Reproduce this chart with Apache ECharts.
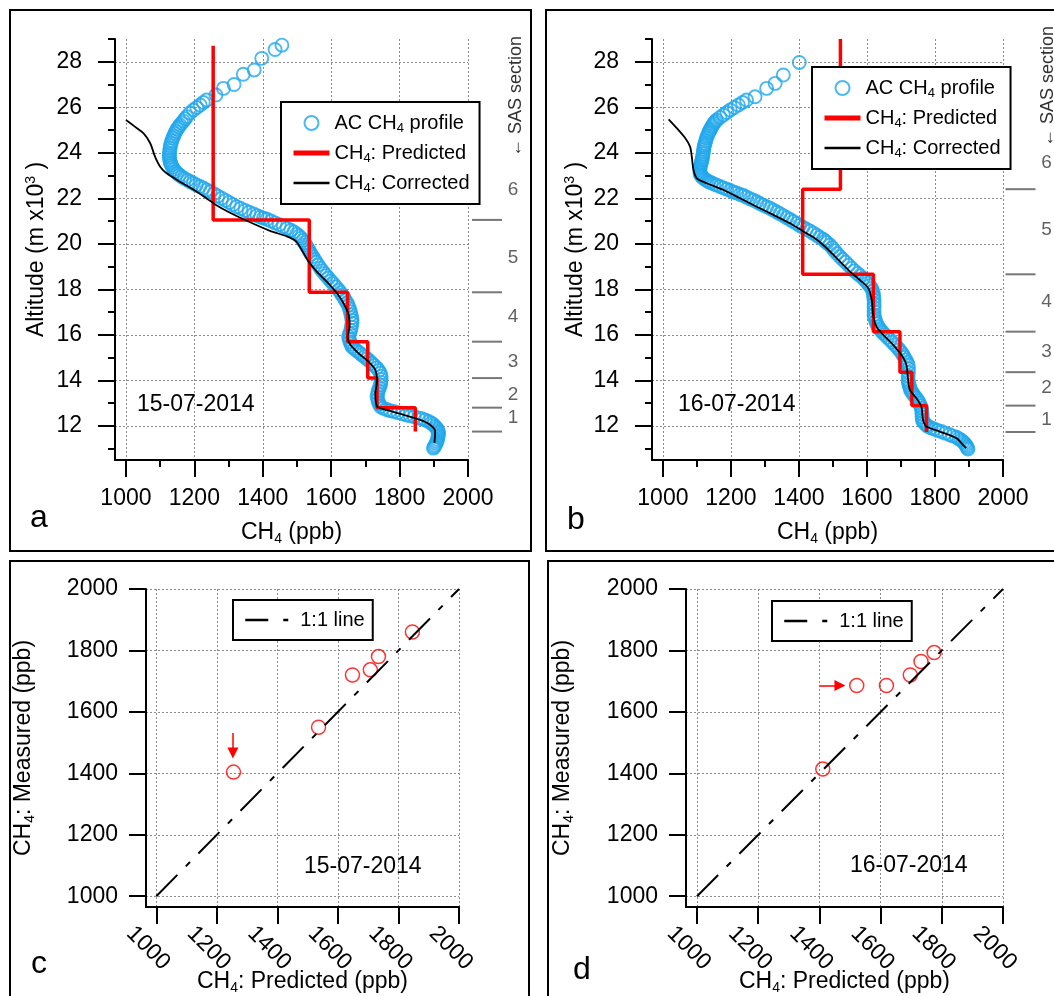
<!DOCTYPE html>
<html><head><meta charset="utf-8">
<script src="https://cdn.jsdelivr.net/npm/echarts@6/dist/echarts.min.js"></script>
<style>html,body{margin:0;padding:0;background:#fff}#c{width:1054px;height:996px}</style>
</head><body><div id="c"></div>
<script>
// ---------------- DATA ----------------
const xTicks = [1000, 1200, 1400, 1600, 1800, 2000];
const xMinorTicks = [1100, 1300, 1500, 1700, 1900];
const altTicks = [12, 14, 16, 18, 20, 22, 24, 26, 28];
const altMinorTicks = [11, 13, 15, 17, 19, 21, 23, 25, 27, 29];
const scTicks = [1000, 1200, 1400, 1600, 1800, 2000];
const sasLabels = ['1', '2', '3', '4', '5', '6'];

// 15-07-2014 AC CH4 profile [CH4 ppb, altitude km]
const profA = [[1456,28.73],[1436,28.54],[1397,28.15],[1375,27.64],[1343,27.45],[1316,27.00],[1285,26.83],[1263,26.54],
[1236,26.32],[1226,26.21],[1217,26.10],[1207,25.99],[1197,25.88],[1187,25.75],[1178,25.59],[1173,25.50],[1168,25.40],[1163,25.31],
[1158,25.22],[1154,25.13],[1150,25.05],[1146,24.95],[1143,24.86],[1140,24.75],[1137,24.65],[1134,24.53],[1132,24.42],[1130,24.31],
[1129,24.20],[1128,24.09],[1127,23.98],[1127,23.89],[1127,23.80],[1128,23.70],[1129,23.61],[1131,23.53],[1133,23.45],[1136,23.36],
[1140,23.27],[1145,23.18],[1150,23.10],[1156,23.02],[1163,22.95],[1171,22.87],[1180,22.80],[1188,22.73],[1197,22.66],[1206,22.59],
[1216,22.52],[1226,22.45],[1236,22.37],[1246,22.29],[1257,22.20],[1268,22.10],[1280,22.00],[1291,21.91],[1302,21.82],[1313,21.72],
[1324,21.63],[1336,21.55],[1348,21.47],[1360,21.39],[1373,21.31],[1383,21.24],[1393,21.18],[1402,21.13],[1412,21.08],[1424,21.00],
[1436,20.92],[1448,20.84],[1460,20.76],[1471,20.68],[1482,20.60],[1491,20.52],[1499,20.43],[1506,20.34],[1512,20.25],[1517,20.15],
[1522,20.05],[1526,19.95],[1530,19.85],[1534,19.75],[1537,19.65],[1541,19.55],[1546,19.44],[1551,19.32],[1556,19.20],[1562,19.07],
[1568,18.93],[1574,18.81],[1580,18.70],[1586,18.60],[1592,18.49],[1599,18.37],[1606,18.25],[1614,18.11],[1622,17.97],[1627,17.86],
[1632,17.75],[1637,17.64],[1641,17.53],[1646,17.41],[1650,17.30],[1653,17.16],[1656,17.02],[1658,16.88],[1660,16.75],[1661,16.63],
[1661,16.51],[1659,16.35],[1657,16.20],[1654,16.06],[1651,15.92],[1653,15.81],[1655,15.70],[1658,15.59],[1661,15.48],[1668,15.39],
[1675,15.30],[1683,15.21],[1690,15.12],[1698,15.03],[1705,14.95],[1712,14.85],[1719,14.75],[1726,14.65],[1733,14.55],[1739,14.43],
[1744,14.31],[1746,14.18],[1746,14.05],[1745,13.92],[1744,13.80],[1741,13.67],[1738,13.55],[1736,13.42],[1734,13.29],[1736,13.17],
[1738,13.05],[1741,12.95],[1744,12.85],[1752,12.78],[1762,12.72],[1772,12.67],[1783,12.63],[1795,12.58],[1808,12.53],[1820,12.48],
[1831,12.44],[1843,12.40],[1855,12.35],[1865,12.31],[1875,12.26],[1885,12.19],[1893,12.12],[1899,12.05],[1904,11.97],[1908,11.90],
[1911,11.83],[1913,11.75],[1914,11.68],[1913,11.59],[1912,11.50],[1911,11.40],[1909,11.31],[1907,11.23],[1904,11.15],[1901,11.08],[1899,11.02]];
// 15-07-2014 corrected CH4 [ppb, km]
const corrA = [[1000,25.44],[1026,25.15],[1051,24.86],[1071,24.42],[1085,23.83],[1100,23.39],[1119,23.10],[1158,22.73],[1207,22.29],[1240,21.95],
[1262,21.72],[1300,21.40],[1355,21.00],[1421,20.57],[1470,20.33],[1497,20.12],[1514,19.73],[1534,19.22],[1558,18.78],[1587,18.34],
[1617,17.83],[1636,17.39],[1651,16.88],[1654,16.36],[1648,15.92],[1656,15.56],[1680,15.19],[1709,14.82],[1729,14.46],[1734,13.95],
[1729,13.44],[1734,12.85],[1763,12.70],[1812,12.48],[1860,12.26],[1890,12.04],[1904,11.75],[1902,11.25]];
// 15-07-2014 SAS sections 1..6: predicted and measured CH4, section bounds (km)
const predA = [1846, 1734, 1707, 1648, 1536, 1255];
const measA = [1860, 1780, 1737, 1720, 1550, 1404];
const boundsA = [11.75, 12.8, 14.1, 15.7, 17.87, 21.05, 28.7];
const sasLabelAltA = [12.35, 13.36, 14.83, 16.8, 19.38, 22.36];

// 16-07-2014
const profB = [[1401,27.97],[1354,27.42],[1330,27.05],[1305,26.83],[1271,26.46],
[1246,26.32],[1234,26.21],[1222,26.10],[1210,25.99],[1198,25.88],[1188,25.77],[1178,25.66],[1168,25.55],[1158,25.44],[1154,25.37],
[1150,25.30],[1147,25.22],[1144,25.15],[1141,25.07],[1139,25.00],[1136,24.93],[1134,24.86],[1131,24.75],[1128,24.65],[1126,24.53],
[1124,24.42],[1122,24.33],[1121,24.25],[1120,24.15],[1119,24.05],[1118,23.95],[1117,23.85],[1116,23.76],[1115,23.68],[1113,23.59],
[1112,23.50],[1110,23.41],[1109,23.32],[1109,23.23],[1109,23.15],[1110,23.08],[1111,23.02],[1114,22.96],[1118,22.90],[1123,22.84],
[1129,22.78],[1135,22.73],[1142,22.68],[1150,22.63],[1158,22.58],[1168,22.52],[1178,22.46],[1188,22.40],[1198,22.34],[1207,22.28],
[1217,22.23],[1227,22.17],[1237,22.12],[1246,22.05],[1256,21.98],[1266,21.92],[1276,21.85],[1285,21.77],[1295,21.70],[1305,21.63],
[1315,21.56],[1325,21.48],[1335,21.40],[1344,21.32],[1354,21.24],[1364,21.15],[1374,21.07],[1383,20.98],[1393,20.90],[1402,20.81],
[1412,20.73],[1422,20.64],[1432,20.56],[1442,20.47],[1452,20.38],[1461,20.29],[1471,20.20],[1477,20.12],[1482,20.05],[1491,19.95],
[1498,19.83],[1505,19.70],[1512,19.57],[1520,19.44],[1528,19.32],[1537,19.20],[1546,19.06],[1555,18.93],[1563,18.81],[1572,18.70],
[1580,18.60],[1589,18.49],[1596,18.38],[1602,18.27],[1608,18.16],[1614,18.05],[1617,17.92],[1619,17.80],[1620,17.66],[1621,17.53],
[1621,17.36],[1621,17.20],[1621,17.04],[1621,16.88],[1623,16.74],[1626,16.60],[1629,16.48],[1633,16.36],[1637,16.27],[1642,16.18],
[1647,16.09],[1653,16.00],[1660,15.89],[1668,15.78],[1675,15.67],[1682,15.56],[1689,15.45],[1695,15.35],[1701,15.23],[1706,15.12],
[1710,15.01],[1714,14.90],[1718,14.79],[1721,14.68],[1722,14.52],[1722,14.35],[1721,14.18],[1721,14.02],[1722,13.91],[1724,13.80],
[1726,13.69],[1728,13.58],[1732,13.49],[1736,13.40],[1740,13.31],[1745,13.22],[1750,13.11],[1754,13.00],[1757,12.89],[1760,12.78],
[1761,12.65],[1762,12.52],[1762,12.39],[1763,12.26],[1766,12.18],[1770,12.10],[1775,12.03],[1780,11.97],[1789,11.91],[1798,11.86],
[1808,11.80],[1819,11.75],[1830,11.68],[1842,11.62],[1852,11.56],[1863,11.50],[1870,11.44],[1877,11.37],[1882,11.30],[1887,11.24],
[1890,11.17],[1893,11.10],[1895,11.04],[1897,10.98]];
const corrB = [[1017,25.47],[1041,25.08],[1066,24.64],[1080,24.27],[1085,23.83],[1090,23.24],[1100,22.88],[1129,22.66],[1178,22.37],[1227,22.00],
[1276,21.63],[1325,21.27],[1374,20.90],[1413,20.54],[1447,20.24],[1478,19.86],[1511,19.37],[1550,18.78],[1579,18.41],[1604,18.05],
[1614,17.53],[1618,16.88],[1628,16.36],[1648,16.00],[1677,15.56],[1701,15.12],[1716,14.68],[1721,14.02],[1726,13.58],[1745,13.22],
[1760,12.85],[1765,12.26],[1775,11.97],[1814,11.75],[1863,11.46],[1882,11.17],[1892,11.02]];
const predB = [1775, 1732, 1697, 1619, 1411, 1522];
const measB = [1793, 1764, 1720, 1686, 1414, 1686];
const boundsB = [11.73, 12.89, 14.36, 16.14, 18.66, 22.4, 29];
const sasLabelAltB = [12.26, 13.66, 15.26, 17.46, 20.6, 23.54];

const oneToOne = [1000, 2000];
const arrowC = [[1253, 1531], [1253, 1466]];
const arrowD = [[1400, 1686], [1467, 1686]];

// ---------------- STYLE ----------------
const FONT = '"Liberation Sans", Arial, Helvetica, sans-serif';
const BLUE = '#1fa8ec', RED = '#ff0000';
const RICH = {
  s: { fontSize: 14, lineHeight: 13, verticalAlign: 'bottom', fontFamily: FONT, color: '#000' },
  p: { fontSize: 14, lineHeight: 13, verticalAlign: 'top', fontFamily: FONT, color: '#000' }
};
const nameStyle = { fontSize: 23, fontFamily: FONT, color: '#000', lineHeight: 26, rich: RICH };

function majorAxis(gi, min, max, ticks, pos, o) {
  return {
    type: 'value', gridIndex: gi, min: min, max: max, position: pos,
    axisLine: { show: true, onZero: false, lineStyle: { color: '#000', width: 2 } },
    axisTick: { show: true, customValues: ticks, length: 17, lineStyle: { color: '#000', width: 2 } },
    axisLabel: Object.assign({ show: true, customValues: ticks, fontSize: 23, fontFamily: FONT, color: '#000',
      margin: o.margin, formatter: v => String(v) }, o.label || {}),
    splitLine: { show: true, lineStyle: { color: '#8a8a8a', width: 1, type: [2, 2] } },
    name: o.name, nameLocation: 'middle', nameGap: o.nameGap, nameMoveOverlap: false, nameTextStyle: nameStyle
  };
}
function minorAxis(gi, min, max, ticks, pos) {
  return {
    type: 'value', gridIndex: gi, min: min, max: max, position: pos,
    axisLine: { show: false, onZero: false },
    axisTick: { show: true, customValues: ticks, length: 7, lineStyle: { color: '#000', width: 2 } },
    axisLabel: { show: false }, splitLine: { show: false }
  };
}
function hiddenAxis(gi, min, max) { return { type: 'value', gridIndex: gi, min: min, max: max, show: false }; }

function stepPts(pred, bounds) {
  const out = [];
  pred.forEach((v, i) => { out.push([v, bounds[i]]); out.push([v, bounds[i + 1]]); });
  return out;
}
function profileSeries(xi, prof, corr, pred, bounds) {
  return [
    { name: 'AC CH4 profile', type: 'scatter', xAxisIndex: xi, yAxisIndex: xi, data: prof,
      symbol: 'circle', symbolSize: 13, clip: false,
      itemStyle: { color: 'rgba(0,0,0,0)', borderColor: BLUE, borderWidth: 1.9 } },
    { name: 'CH4: Predicted', type: 'line', xAxisIndex: xi, yAxisIndex: xi, data: stepPts(pred, bounds),
      symbol: 'none', lineStyle: { color: RED, width: 3.5 }, itemStyle: { color: RED } },
    { name: 'CH4: Corrected', type: 'line', xAxisIndex: xi, yAxisIndex: xi, data: corr, smooth: 0.25,
      symbol: 'none', lineStyle: { color: '#000', width: 1.8 }, itemStyle: { color: '#000' } }
  ];
}
function scatterSeries(xi, pred, meas, arrow) {
  return [
    { name: '1:1 line', type: 'line', xAxisIndex: xi, yAxisIndex: xi, data: oneToOne.map(v => [v, v]),
      symbol: 'none', lineStyle: { color: '#000', width: 2, type: [30, 12, 6, 12] }, itemStyle: { color: '#000' } },
    { name: 'meas', type: 'scatter', xAxisIndex: xi, yAxisIndex: xi, data: pred.map((p, i) => [p, meas[i]]),
      symbol: 'circle', symbolSize: 14,
      itemStyle: { color: 'rgba(0,0,0,0)', borderColor: RED, borderWidth: 1.5 },
      markLine: { silent: true, symbol: ['none', 'triangle'], symbolSize: 11, animation: false,
        itemStyle: { color: RED, opacity: 1 },
        lineStyle: { color: RED, width: 1.5, type: 'solid', opacity: 1 }, label: { show: false },
        emphasis: { disabled: true },
        data: [[{ coord: arrow[0] }, { coord: arrow[1] }]] } }
  ];
}
function sasSeries(xi, bounds, labelAlt) {
  return [
    { type: 'scatter', xAxisIndex: xi, yAxisIndex: xi, data: bounds.slice(0, 6).map(b => [0.5, b]),
      symbol: 'rect', symbolSize: [30, 2], itemStyle: { color: '#555' }, clip: false, silent: true },
    { type: 'scatter', xAxisIndex: xi, yAxisIndex: xi, data: labelAlt.map(a => [0.5, a]),
      symbol: 'circle', symbolSize: 1, itemStyle: { color: 'rgba(0,0,0,0)' }, clip: false, silent: true,
      label: { show: true, position: 'inside', offset: [26, 0], formatter: p => sasLabels[p.dataIndex],
        fontSize: 19, fontFamily: FONT, color: '#3a3a3a' } }
  ];
}
const legendText = { fontSize: 20, fontFamily: FONT, color: '#000', lineHeight: 24,
  rich: { s: { fontSize: 13, lineHeight: 12, verticalAlign: 'bottom', fontFamily: FONT, color: '#000' } } };
const fmtName = n => n.replace('CH4', 'CH{s|4}');
const noSym = { opacity: 0 };
function profLegend(left, top) {
  return { show: true, orient: 'vertical', left: left, top: top, selectedMode: false,
    data: [{ name: 'AC CH4 profile' },
      { name: 'CH4: Predicted', itemStyle: noSym, lineStyle: { width: 5 } },
      { name: 'CH4: Corrected', itemStyle: noSym, lineStyle: { width: 2.5 } }],
    itemWidth: 36, itemHeight: 14, itemGap: 6, padding: [9, 10, 9, 10],
    backgroundColor: '#fff', borderColor: '#000', borderWidth: 2, borderRadius: 0,
    textStyle: legendText, formatter: fmtName };
}
function lineLegend(left, top) {
  return { show: true, orient: 'vertical', left: left, top: top, selectedMode: false,
    data: [{ name: '1:1 line', itemStyle: noSym, lineStyle: { type: [23, 15, 5, 20], width: 2.5 } }],
    itemWidth: 50, itemHeight: 14, padding: [8, 8, 8, 11],
    backgroundColor: '#fff', borderColor: '#000', borderWidth: 2, borderRadius: 0,
    textStyle: legendText };
}
function txt(x, y, t, size, extra) {
  return Object.assign({ type: 'text', x: x, y: y, silent: true, z: 10,
    style: Object.assign({ text: t, fontSize: size, fontFamily: FONT, fill: '#000',
      textAlign: 'left', textVerticalAlign: 'middle', align: 'left', verticalAlign: 'middle' }, (extra && extra.style) || {}) },
    (extra && extra.el) || {});
}
function frame(x, y, w, h) {
  return { type: 'rect', silent: true, z: 10, shape: { x: x, y: y, width: w, height: h },
    style: { fill: 'none', stroke: '#000', lineWidth: 2 } };
}
function g(left, top, width, height) {
  return { left: left, top: top, width: width, height: height, outerBoundsMode: 'none', containLabel: false };
}

const option = {
  animation: false,
  backgroundColor: '#fff',
  textStyle: { fontFamily: FONT },
  grid: [
    g(115, 39, 353, 421),
    g(652, 39, 351, 421),
    g(146, 589, 313, 318),
    g(686, 589, 317, 318),
    g(472, 39, 30, 421),
    g(1006, 39, 29, 421)
  ],
  xAxis: [
    majorAxis(0, 968, 2000, xTicks, 'bottom', { margin: 27, name: 'CH{s|4} (ppb)', nameGap: 60 }),
    minorAxis(0, 968, 2000, xMinorTicks, 'bottom'),
    majorAxis(1, 968, 2000, xTicks, 'bottom', { margin: 27, name: 'CH{s|4} (ppb)', nameGap: 60 }),
    minorAxis(1, 968, 2000, xMinorTicks, 'bottom'),
    majorAxis(2, 966, 2000, scTicks, 'bottom', { margin: 33, name: 'CH{s|4}: Predicted (ppb)', nameGap: 62,
      label: { rotate: -45, align: 'center', verticalAlign: 'top' } }),
    majorAxis(3, 964, 2000, scTicks, 'bottom', { margin: 33, name: 'CH{s|4}: Predicted (ppb)', nameGap: 62,
      label: { rotate: -45, align: 'center', verticalAlign: 'top' } }),
    hiddenAxis(4, 0, 1),
    hiddenAxis(5, 0, 1)
  ],
  yAxis: [
    majorAxis(0, 10.5, 29, altTicks, 'left', { margin: 33, name: 'Altitude (m x10{p|3} )', nameGap: 65 }),
    minorAxis(0, 10.5, 29, altMinorTicks, 'left'),
    majorAxis(1, 10.5, 29, altTicks, 'left', { margin: 33, name: 'Altitude (m x10{p|3} )', nameGap: 63 }),
    minorAxis(1, 10.5, 29, altMinorTicks, 'left'),
    majorAxis(2, 965, 2000, scTicks, 'left', { margin: 28, name: 'CH{s|4}: Measured (ppb)', nameGap: 109 }),
    majorAxis(3, 965, 2000, scTicks, 'left', { margin: 28, name: 'CH{s|4}: Measured (ppb)', nameGap: 110 }),
    hiddenAxis(4, 10.5, 29),
    hiddenAxis(5, 10.5, 29)
  ],
  legend: [profLegend(281, 102), profLegend(812, 67), lineLegend(233, 600), lineLegend(772, 601)],
  series: [].concat(
    profileSeries(0, profA, corrA, predA, boundsA),
    profileSeries(2, profB, corrB, predB, boundsB),
    scatterSeries(4, predA, measA, arrowC),
    scatterSeries(5, predB, measB, arrowD),
    sasSeries(6, boundsA, sasLabelAltA),
    sasSeries(7, boundsB, sasLabelAltB)
  ),
  graphic: [
    frame(10, 10, 521, 541), frame(546, 10, 520, 541), frame(10, 561, 519, 450), frame(548, 561, 520, 450),
    txt(30, 518, 'a', 32), txt(567, 520, 'b', 32), txt(31, 964, 'c', 32), txt(573, 970, 'd', 32),
    txt(137, 405, '15-07-2014', 23), txt(678, 405, '16-07-2014', 23),
    txt(304, 867, '15-07-2014', 23), txt(850, 866, '16-07-2014', 23),
    txt(516, 157, '\u2190 SAS section', 18, { el: { rotation: Math.PI / 2 }, style: { fill: '#333' } }),
    txt(1048, 147, '\u2190 SAS section', 18, { el: { rotation: Math.PI / 2 }, style: { fill: '#333' } })
  ]
};
const chart = echarts.init(document.getElementById('c'), null, { renderer: 'canvas' });
chart.setOption(option);
</script>
</body></html>
